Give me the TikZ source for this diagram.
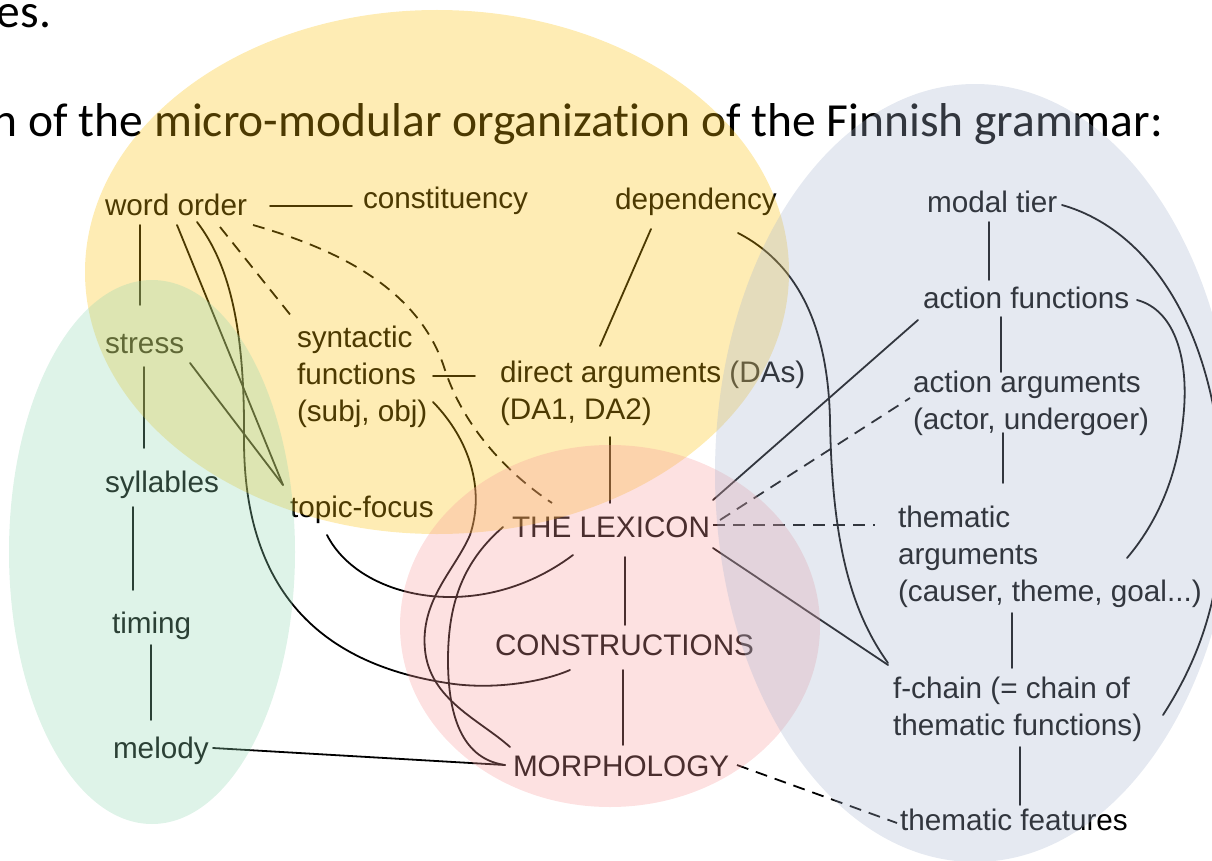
\documentclass[tikz,border=0pt]{standalone}
\usepackage{fontspec}
\setmainfont{Liberation Sans}
\newfontfamily\titlefont{Carlito}[Ligatures=NoCommon,Contextuals=NoAlternate]
% left-aligned stack of lines whose baseline is that of the first line
\newcommand\stackleft[1]{\vtop{\baselineskip=37pt\halign{##\hfil\cr#1\crcr}}}

\definecolor{yel}{RGB}{252,192,5}
\definecolor{grn}{RGB}{145,215,178}
\definecolor{pnk}{RGB}{248,155,155}
\definecolor{blu}{RGB}{168,182,208}

\begin{document}
\begin{tikzpicture}[x=1pt,y=-1pt,
  lbl/.style={anchor=base west, inner sep=0pt, outer sep=0pt, font=\fontsize{29.7}{37}\selectfont},
  head/.style={anchor=base west, inner sep=0pt, outer sep=0pt, font=\titlefont\fontsize{47.5}{57}\selectfont},
  link/.style={line width=1.8pt, line cap=round},
  dlink/.style={line width=1.8pt, dash pattern=on 12pt off 8pt},
  zone/.style={fill opacity=0.3}]
\useasboundingbox (0,0) rectangle (1212,861);

% heading lines
\node[head] (prev) at (-3,28) {es.};
\node[head] (title) at (-7,137) {h of the micro-modular organization of the Finnish grammar:};

% left column
\node[lbl] (wo) at (105,215) {word order};
\node[lbl] (stress) at (105,353) {stress};
\node[lbl] (syl) at (105,492) {syllables};
\node[lbl] (tim) at (112,633) {timing};
\node[lbl] (mel) at (113,758) {melody};

% upper middle
\node[lbl] (cons) at (363,208) {constituency};
\node[lbl] (dep) at (615,210) {dependency};
\node[lbl] (syn) at (297,347) {\stackleft{syntactic\cr functions\cr (subj, obj)}};
\node[lbl] (da) at (500,382) {\stackleft{direct arguments (DAs)\cr (DA1, DA2)}};
\node[lbl] (tf) at (290,517) {topic-focus};

% centre
\node[lbl] (lex) at (512,537) {THE LEXICON};
\node[lbl] (cx) at (495,655) {CONSTRUCTIONS};
\node[lbl] (morph) at (513,776) {MORPHOLOGY};

% right column
\node[lbl] (modal) at (927,212) {modal tier};
\node[lbl] (af) at (923,308) {action functions};
\node[lbl] (aa) at (913,392) {\stackleft{action arguments\cr (actor, undergoer)}};
\node[lbl] (ta) at (898,527) {\stackleft{thematic\cr arguments\cr (causer, theme, goal...)}};
\node[lbl] (fc) at (893,698) {\stackleft{f-chain (= chain of\cr thematic functions)}};
\node[lbl] (feat) at (900,830) {thematic features};

% prosodic chain
\draw[link] ([shift={(35,10)}]wo.base west) -- ([shift={(35,-48)}]stress.base west);
\draw[link] ([shift={(39,14)}]stress.base west) -- ([shift={(39,-44)}]syl.base west);
\draw[link] ([shift={(28,15)}]syl.base west) -- ([shift={(21,-43)}]tim.base west);
\draw[link] ([shift={(39,12)}]tim.base west) -- ([shift={(38,-38)}]mel.base west);
\draw[link] ([shift={(100,-10)}]mel.base west) -- ([shift={(-8,-11)}]morph.base west);

% syntactic links
\draw[link] ([shift={(165,-9)}]wo.base west) -- ([shift={(-11,-2)}]cons.base west);
\draw[dlink] ([shift={(115,12)}]wo.base west) -- ([shift={(-5,-30)}]syn.base west);
\draw[dlink] ([shift={(148,10)}]wo.base west)
  .. controls (340,250) and (420,290) .. (445,370)
  .. controls (465,430) and (510,475) .. ([shift={(40,-34)}]lex.base west);
\draw[link] ([shift={(72,10)}]wo.base west) -- ([shift={(-7,-32)}]tf.base west);
\draw[link] ([shift={(85,10)}]stress.base west) -- ([shift={(-7,-32)}]tf.base west);
\draw[link] ([shift={(92,7)}]wo.base west)
  .. controls (230,265) and (245,330) .. (244,440)
  .. controls (244,600) and (330,665) .. (447,683)
  .. controls (490,690) and (540,683) .. ([shift={(75,15)}]cx.base west);
\draw[link] ([shift={(37,18)}]tf.base west)
  .. controls (360,600) and (480,625) .. ([shift={(61,18)}]lex.base west);
\draw[link] ([shift={(136,55)}]syn.base west)
  .. controls (470,440) and (485,490) .. (470,535)
  .. controls (455,570) and (420,600) .. (425,650)
  .. controls (430,700) and (480,720) .. ([shift={(-3,-29)}]morph.base west);
\draw[link] ([shift={(-9,-10)}]lex.base west)
  .. controls (465,560) and (448,600) .. (448,660)
  .. controls (448,730) and (470,760) .. ([shift={(-8,-11)}]morph.base west);
\draw[link] ([shift={(136,29)}]syn.base west) -- ([shift={(-25,-6)}]da.base west);
\draw[link] ([shift={(36,19)}]dep.base west) -- ([shift={(100,-36)}]da.base west);
\draw[link] ([shift={(110,55)}]da.base west) -- ([shift={(98,-34)}]lex.base west);
\draw[link] ([shift={(113,20)}]lex.base west) -- ([shift={(130,-30)}]cx.base west);
\draw[link] ([shift={(128,15)}]cx.base west) -- ([shift={(110,-31)}]morph.base west);

% semantic chain
\draw[link] ([shift={(62,10)}]modal.base west) -- ([shift={(66,-28)}]af.base west);
\draw[link] ([shift={(78,9)}]af.base west) -- ([shift={(88,-20)}]aa.base west);
\draw[link] ([shift={(90,41)}]aa.base west) -- ([shift={(105,-44)}]ta.base west);
\draw[link] ([shift={(114,86)}]ta.base west) -- ([shift={(119,-30)}]fc.base west);
\draw[link] ([shift={(127,49)}]fc.base west) -- ([shift={(120,-25)}]feat.base west);

% lexicon to the semantic tiers
\draw[link] ([shift={(201,-37)}]lex.base west) -- ([shift={(-5,12)}]af.base west);
\draw[dlink] ([shift={(208,-17)}]lex.base west) -- ([shift={(-3,6)}]aa.base west);
\draw[dlink] ([shift={(201,-12)}]lex.base west) -- ([shift={(-23,-2)}]ta.base west);
\draw[link] ([shift={(201,11)}]lex.base west) -- ([shift={(-5,-33)}]fc.base west);
\draw[link] ([shift={(123,23)}]dep.base west)
  .. controls (800,265) and (828,330) .. (830,420)
  .. controls (832,540) and (850,610) .. ([shift={(-5,-35)}]fc.base west);
\draw[dlink] ([shift={(224,-11)}]morph.base west) -- ([shift={(-3,-7)}]feat.base west);
\draw[link] ([shift={(135,-7)}]modal.base west)
  .. controls (1150,230) and (1215,330) .. (1222,480)
  .. controls (1226,580) and (1205,650) .. ([shift={(270,17)}]fc.base west);
\draw[link] ([shift={(214,-8)}]af.base west)
  .. controls (1175,310) and (1190,360) .. (1183,420)
  .. controls (1177,480) and (1155,525) .. ([shift={(229,31)}]ta.base west);

% translucent module zones laid over the network
\fill[zone, yel] (437,272) ellipse [x radius=352, y radius=262];
\fill[zone, grn] (152,552) ellipse [x radius=143, y radius=272];
\fill[zone, pnk] (610,626) ellipse [x radius=210, y radius=181];
\fill[zone, blu] (975,473) ellipse [x radius=260, y radius=389];
\end{tikzpicture}
\end{document}
